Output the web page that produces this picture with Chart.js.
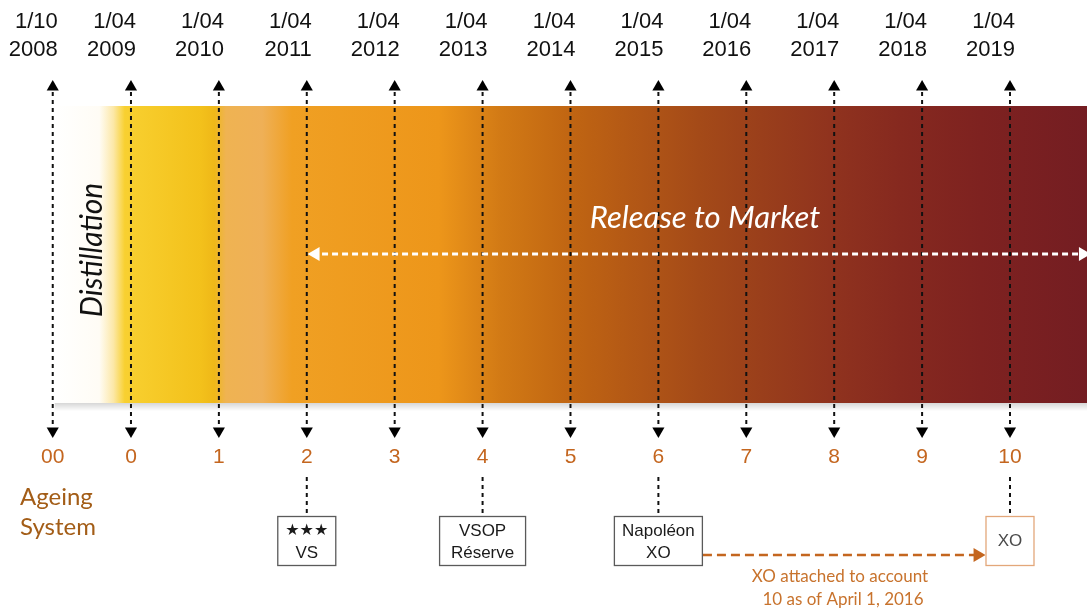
<!DOCTYPE html>
<html><head><meta charset="utf-8">
<script src="https://cdn.jsdelivr.net/npm/chart.js@4/dist/chart.umd.min.js"></script>
<style>html,body{margin:0;padding:0;background:#fff;overflow:hidden;}#wrap{width:1087px;height:612px;position:relative;}</style>
</head><body><div id="wrap"><canvas id="c"></canvas></div>
<script>
// ---- data ----
const accountLabels = ['00','0','1','2','3','4','5','6','7','8','9','10'];
const accountPositions = [-0.89,0,1,2,3,4,5,6,7,8,9,10];
const dateLine1 = ['1/10','1/04','1/04','1/04','1/04','1/04','1/04','1/04','1/04','1/04','1/04','1/04'];
const dateLine2 = ['2008','2009','2010','2011','2012','2013','2014','2015','2016','2017','2018','2019'];
const productAccounts = [2,4,6,10];
const productNames = [['★★★','VS'],['VSOP','Réserve'],['Napoléon','XO'],['XO']];
const releaseStart = 2;
const transferFrom = 6;
const transferTo = 10;
const transferNote = ['XO attached to account','10 as of April 1, 2016'];
const axisTitle = ['Ageing','System'];
const phaseLabels = ['Distillation','Release to Market'];

// ---- layout / style ----
const L = {xMin:-1.49, xMax:10.876, bandTop:106, bandBottom:403, arrowTop:87, lineTop:92, lineBottom:428,
  arrowBottom:431, labelY:457, connTop:477, connBottom:516, boxTop:516, boxBottom:566, releaseY:254, transferY:555};
const boxWidths = [59,87,89,49];
const bandStops = [[-0.865,'#ffffff'],[-0.36,'#fffcf5'],[-0.2,'#fce8a8'],[-0.07,'#f8d030'],[0.79,'#f3c11b'],
  [0.95,'#efb818'],[1.08,'#efb352'],[1.49,'#efb057'],[1.83,'#f0a023'],[3.5,'#ed961a'],[4.2,'#d27a15'],
  [5.0,'#c06512'],[5.8,'#b15616'],[6.47,'#a44a18'],[7.16,'#9a3f1b'],[7.95,'#90331e'],[8.75,'#86291f'],
  [9.66,'#7e2220'],[10.876,'#741d22']];
const ORANGE = '#c4661f';

function bandFill(c){
  const ch=c.chart, xs=ch.scales.x, a=ch.chartArea;
  if(!a||!xs) return 'rgba(0,0,0,0)';
  const g=ch.ctx.createLinearGradient(a.left,0,a.right,0);
  const w=a.right-a.left;
  bandStops.forEach(([v,col])=>{let f=(xs.getPixelForValue(v)-a.left)/w; g.addColorStop(Math.min(1,Math.max(0,f)),col);});
  return g;
}
function shadowFill(c){
  const ch=c.chart, ys=ch.scales.y, a=ch.chartArea;
  if(!a||!ys) return 'rgba(0,0,0,0)';
  const g=ch.ctx.createLinearGradient(0,ys.getPixelForValue(L.bandBottom),0,ys.getPixelForValue(L.bandBottom+8));
  g.addColorStop(0,'rgba(0,0,0,0.16)'); g.addColorStop(1,'rgba(0,0,0,0)');
  return g;
}
const seg = (xs,y0,y1)=>xs.flatMap(p=>[{x:p,y:y0},{x:p,y:y1},{x:p,y:null}]);
const boxHalf = i => boxWidths[i]/2/87.8;

const datasets = [
  {label:'shadow', data:[{x:accountPositions[0]+0.02,y:L.bandBottom},{x:12,y:L.bandBottom}], fill:{value:L.bandBottom+8},
   backgroundColor:shadowFill, borderWidth:0, pointRadius:0, order:21},
  {label:'band', data:[{x:accountPositions[0]+0.02,y:L.bandTop},{x:12,y:L.bandTop}], fill:{value:L.bandBottom},
   backgroundColor:bandFill, borderWidth:0, pointRadius:0, order:20},
  {label:'ticks', data:seg(accountPositions,L.lineTop,L.lineBottom), borderColor:'#111', borderWidth:2, borderDash:[4,4],
   pointRadius:0, spanGaps:false, fill:false, order:10},
  {label:'connectors', data:seg(productAccounts,L.connTop,L.connBottom), borderColor:'#111', borderWidth:2, borderDash:[4,4],
   pointRadius:0, spanGaps:false, fill:false, order:10},
  {label:'up', data:accountPositions.map(p=>({x:p,y:L.arrowTop})), showLine:false, pointStyle:'triangle', pointRadius:7,
   rotation:0, backgroundColor:'#000', borderWidth:0, order:9},
  {label:'down', data:accountPositions.map(p=>({x:p,y:L.arrowBottom})), showLine:false, pointStyle:'triangle', pointRadius:7,
   rotation:180, backgroundColor:'#000', borderWidth:0, order:9},
  {label:'release', data:[{x:releaseStart+0.06,y:L.releaseY},{x:12,y:L.releaseY}], borderColor:'#fff', borderWidth:3,
   borderDash:[6,4], pointRadius:0, fill:false, order:5},
  {label:'releaseHeads', data:[{x:releaseStart+0.1,y:L.releaseY},{x:10.83,y:L.releaseY}], showLine:false, pointStyle:'triangle',
   pointRadius:8, rotation:[270,90], backgroundColor:'#fff', borderWidth:0, order:4},
  {label:'transfer', data:[{x:transferFrom+boxHalf(2),y:L.transferY},{x:transferTo-boxHalf(3)-0.06,y:L.transferY}],
   borderColor:ORANGE, borderWidth:2.5, borderDash:[9,5], pointRadius:0, fill:false, order:5},
  {label:'transferHead', data:[{x:transferTo-boxHalf(3)-0.09,y:L.transferY}], showLine:false, pointStyle:'triangle',
   pointRadius:8, rotation:90, backgroundColor:ORANGE, borderWidth:0, order:4}
];

const textPlugin = {
  id:'texts',
  afterDatasetsDraw(chart){
    const ctx=chart.ctx, xs=chart.scales.x, ys=chart.scales.y;
    const X=v=>xs.getPixelForValue(v), Y=v=>ys.getPixelForValue(v);
    ctx.save();
    ctx.textBaseline='middle';
    // dates
    ctx.fillStyle='#111'; ctx.font='22px "Liberation Sans", Arial, sans-serif'; ctx.textAlign='right';
    accountPositions.forEach((p,i)=>{ctx.fillText(dateLine1[i],X(p)+5,Y(22));ctx.fillText(dateLine2[i],X(p)+5,Y(50));});
    // account numbers
    ctx.fillStyle=ORANGE; ctx.font='21px "Liberation Sans", Arial, sans-serif'; ctx.textAlign='center';
    accountPositions.forEach((p,i)=>ctx.fillText(accountLabels[i],X(p),Y(L.labelY)));
    // ageing system
    ctx.fillStyle='#a35d17'; ctx.font='24px Lato, "Open Sans", sans-serif'; ctx.textAlign='left';
    ctx.fillText(axisTitle[0],20,Y(497)); ctx.fillText(axisTitle[1],20,Y(527));
    // distillation
    ctx.save(); ctx.translate(X(-0.44),Y(250)); ctx.rotate(-Math.PI/2);
    ctx.fillStyle='#111'; ctx.font='italic 30px Lato, "Open Sans", sans-serif'; ctx.textAlign='center';
    ctx.fillText(phaseLabels[0],0,0); ctx.restore();
    // release to market
    ctx.fillStyle='#fff'; ctx.font='italic 31px Lato, "Open Sans", sans-serif'; ctx.textAlign='center';
    ctx.fillText(phaseLabels[1],X(6.53),Y(218));
    // boxes
    productAccounts.forEach((p,i)=>{
      const w=boxWidths[i], x0=X(p)-w/2, y0=Y(L.boxTop), h=Y(L.boxBottom)-y0;
      const isXO = i===3;
      ctx.fillStyle='#fff'; ctx.fillRect(x0,y0,w,h);
      ctx.strokeStyle=isXO?'#e3a77a':'#5a5a5a'; ctx.lineWidth=1.3; ctx.strokeRect(x0+0.5,y0+0.5,w-1,h-1);
      const lines=productNames[i];
      ctx.textAlign='center';
      if(lines.length===1){
        ctx.fillStyle='#4a4a4a'; ctx.font='17px "Liberation Sans", Arial, sans-serif';
        ctx.fillText(lines[0],X(p),y0+h/2);
      } else {
        lines.forEach((t,j)=>{
          const isStar = t.indexOf('★')>=0;
          ctx.fillStyle='#1a1a1a';
          ctx.font = isStar ? '16px "DejaVu Sans", sans-serif' : '17px "Liberation Sans", Arial, sans-serif';
          ctx.fillText(t,X(p),y0+15+j*22);
        });
      }
    });
    // note
    ctx.fillStyle='#c8732d'; ctx.font='17px Lato, "Open Sans", sans-serif'; ctx.textAlign='center';
    ctx.fillText(transferNote[0],840,Y(577)); ctx.fillText(transferNote[1],843,Y(600));
    ctx.restore();
  }
};

new Chart(document.getElementById('c'),{
  type:'line',
  data:{datasets},
  options:{
    responsive:true, maintainAspectRatio:false, animation:false, events:[],
    layout:{padding:0, autoPadding:false},
    plugins:{legend:{display:false},tooltip:{enabled:false}},
    scales:{
      x:{type:'linear',min:L.xMin,max:L.xMax,display:false},
      y:{type:'linear',min:0,max:612,reverse:true,display:false}
    }
  },
  plugins:[textPlugin]
});
</script></body></html>
